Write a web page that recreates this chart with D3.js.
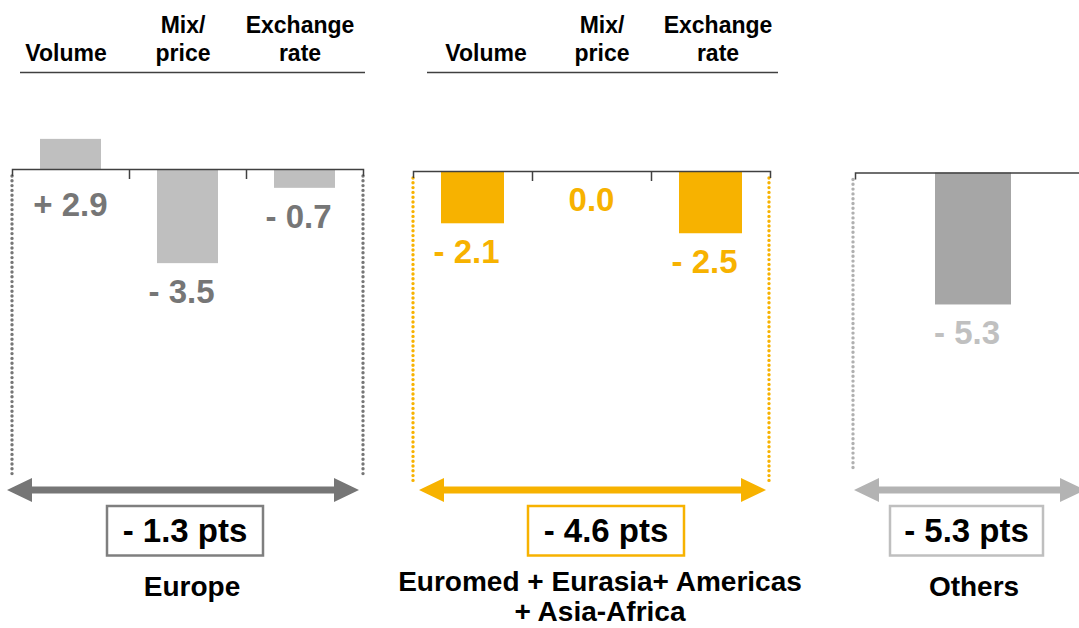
<!DOCTYPE html>
<html>
<head>
<meta charset="utf-8">
<title>Margin variance by region</title>
<style>
body { margin: 0; background: #fff; }
text { font-family: "Liberation Sans", Arial, sans-serif; font-weight: bold; }
.axis path, .axis line { stroke: #404040; stroke-width: 1.5px; }
</style>
</head>
<body>
<svg width="1079" height="628"></svg>
<script src="https://d3js.org/d3.v7.min.js"></script>
<script>

// data
var drivers = ["Volume", "Mix/price", "Exchange rate"];
var driverLines = [["Volume"], ["Mix/", "price"], ["Exchange", "rate"]];
var europeValues = [2.9, -3.5, -0.7];
var intlValues = [-2.1, 0.0, -2.5];
var othersCats = ["Others"];
var othersValues = [-5.3];
var totals = [-1.3, -4.6, -5.3];
var regionLines = [["Europe"], ["Euromed + Eurasia+ Americas", "+ Asia-Africa"], ["Others"]];

// layout per panel
var panels = [
  { cats: drivers, values: europeValues, x0: 12, x1: 363, axisY: 169, unit: 26.9, top: 1.12, barW: 61,
    barColor: "#bfbfbf", labelColor: "#767676", dotColor: "#767676", arrowColor: "#767676", boxColor: "#7f7f7f",
    dots: [12, 363], dotEnd: 478, arrow: [7, 359], box: [107, 263],
    head: [66, 300], headLine: [20, 365], nameX: 192 },
  { cats: drivers, values: intlValues, x0: 413, x1: 770, axisY: 171, unit: 24.9, top: 1, barW: 63,
    barColor: "#f7b200", labelColor: "#f7b200", dotColor: "#f7b200", arrowColor: "#f7b200", boxColor: "#f7b200",
    dots: [413, 769], dotEnd: 484, arrow: [419, 766], box: [528, 684],
    head: [486, 718], headLine: [427, 778], nameX: 600 },
  { cats: othersCats, values: othersValues, x0: 855, x1: 1091, axisY: 172.5, unit: 24.9, top: 1, barW: 76,
    barColor: "#a6a6a6", labelColor: "#c0c0c0", dotColor: "#b0b0b0", arrowColor: "#b3b3b3", boxColor: "#bfbfbf",
    dots: [853], dotEnd: 472, arrow: [854, 1085], box: [890, 1043],
    head: null, headLine: null, nameX: 974 }
];

var svg = d3.select("svg");

function fmt(v) {
  if (v > 0) return "+ " + v.toFixed(1);
  if (v < 0) return "- " + Math.abs(v).toFixed(1);
  return "0.0";
}

function arrowPath(a, b, y) {
  var h = 25, w = 12, t = 3.5;
  return "M" + a + "," + y +
    "L" + (a + h) + "," + (y - w) + "L" + (a + h) + "," + (y - t) +
    "L" + (b - h) + "," + (y - t) + "L" + (b - h) + "," + (y - w) +
    "L" + b + "," + y +
    "L" + (b - h) + "," + (y + w) + "L" + (b - h) + "," + (y + t) +
    "L" + (a + h) + "," + (y + t) + "L" + (a + h) + "," + (y + w) + "Z";
}

panels.forEach(function(p, i) {
  var g = svg.append("g");

  var x = d3.scaleBand().domain(p.cats).range([p.x0, p.x1]);
  var y = d3.scaleLinear().domain([p.top, 0]).range([p.axisY - p.top * p.unit, p.axisY]);
  // bars taller than the visible top are cut at the top of the panel
  var yCut = function(v) { return v > p.top ? y(p.top) : y(v); };

  // column headers
  if (p.head) {
    var hx = d3.scalePoint().domain(p.cats).range(p.head);
    p.cats.forEach(function(c, j) {
      var lines = driverLines[j];
      var t = g.append("text")
        .attr("text-anchor", "middle")
        .attr("font-size", 23)
        .attr("fill", "#000");
      lines.forEach(function(l, k) {
        t.append("tspan")
          .attr("x", hx(c))
          .attr("y", 61 - (lines.length - 1 - k) * 28)
          .text(l);
      });
    });
    g.append("line")
      .attr("x1", p.headLine[0]).attr("x2", p.headLine[1])
      .attr("y1", 72.5).attr("y2", 72.5)
      .attr("stroke", "#404040").attr("stroke-width", 1.5);
  }

  // bars
  g.selectAll("rect.bar")
    .data(p.values)
    .enter().append("rect")
      .attr("class", "bar")
      .attr("x", function(d, j) { return x(p.cats[j]) + (x.bandwidth() - p.barW) / 2; })
      .attr("width", p.barW)
      .attr("y", function(d) { return Math.min(yCut(d), y(0)); })
      .attr("height", function(d) { return Math.abs(yCut(d) - y(0)); })
      .attr("fill", p.barColor);

  // dotted side lines
  p.dots.forEach(function(dx) {
    g.append("line")
      .attr("x1", dx).attr("x2", dx)
      .attr("y1", p.axisY + 7).attr("y2", p.dotEnd)
      .attr("stroke", p.dotColor)
      .attr("stroke-width", 3.4)
      .attr("stroke-linecap", "round")
      .attr("stroke-dasharray", "0 4.8");
  });

  // axis with ticks on column boundaries
  var tickScale = d3.scaleLinear().domain([0, p.cats.length]).range([p.x0, p.x1]);
  g.append("g")
    .attr("class", "axis")
    .attr("transform", "translate(0," + p.axisY + ")")
    .call(d3.axisBottom(tickScale)
      .tickValues(d3.range(1, p.cats.length))
      .tickSizeInner(10)
      .tickSizeOuter(7)
      .tickFormat(""));

  // value labels
  g.selectAll("text.val")
    .data(p.values)
    .enter().append("text")
      .attr("class", "val")
      .attr("text-anchor", "middle")
      .attr("font-size", 33)
      .attr("fill", p.labelColor)
      .attr("x", function(d, j) { return x(p.cats[j]) + x.bandwidth() / 2 + (d < 0 ? -6 : 0); })
      .attr("y", function(d) { return d > 0 ? y(0) + 47 : y(d) + 40; })
      .text(fmt);

  // double arrow
  g.append("path")
    .attr("d", arrowPath(p.arrow[0], p.arrow[1], 490))
    .attr("fill", p.arrowColor);

  // total box
  g.append("rect")
    .attr("x", p.box[0]).attr("y", 506)
    .attr("width", p.box[1] - p.box[0]).attr("height", 49.5)
    .attr("fill", "#fff")
    .attr("stroke", p.boxColor)
    .attr("stroke-width", 2.5);
  g.append("text")
    .attr("text-anchor", "middle")
    .attr("font-size", 33)
    .attr("fill", "#000")
    .attr("x", (p.box[0] + p.box[1]) / 2)
    .attr("y", 542)
    .text(fmt(totals[i]) + " pts");

  // region name
  var name = g.append("text")
    .attr("text-anchor", "middle")
    .attr("font-size", 28)
    .attr("fill", "#000");
  regionLines[i].forEach(function(l, k) {
    name.append("tspan")
      .attr("x", p.nameX)
      .attr("y", (regionLines[i].length > 1 ? 591 : 596) + k * 30)
      .text(l);
  });
});

</script>
</body>
</html>
